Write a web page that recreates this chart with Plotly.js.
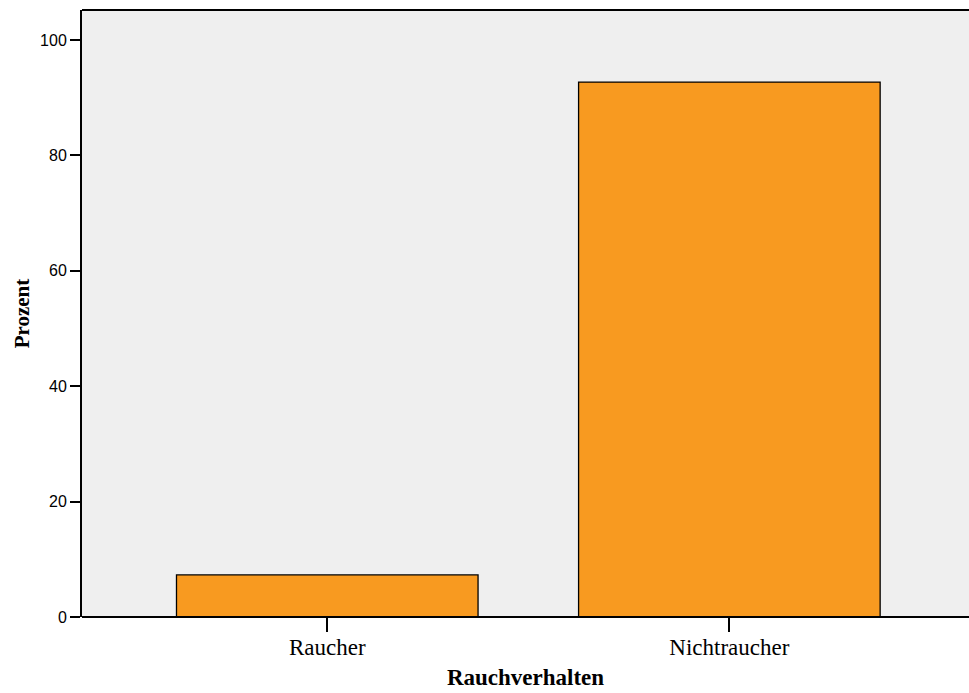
<!DOCTYPE html>
<html>
<head>
<meta charset="utf-8">
<script src="https://cdn.plot.ly/plotly-3.0.1.min.js"></script>
<style>html,body{margin:0;padding:0;background:#fff;}#chart{width:969px;height:693px;}</style>
</head>
<body>
<div id="chart"></div>
<script>
const categories = ["Raucher", "Nichtraucher"];
const percentValues = [7.3, 92.7];
const yTickValues = [0, 20, 40, 60, 80, 100];

const trace = {
  type: "bar",
  x: [0, 1],
  y: percentValues,
  width: 0.75,
  marker: {color: "#F89A20", line: {color: "#000000", width: 1.3}},
  hoverinfo: "skip"
};

const layout = {
  width: 969,
  height: 693,
  margin: {l: 82, r: 0, t: 10, b: 76},
  paper_bgcolor: "#ffffff",
  plot_bgcolor: "#EFEFEF",
  showlegend: false,
  xaxis: {
    range: [-0.61, 1.596],
    tickmode: "array",
    tickvals: [0, 1],
    ticktext: categories,
    ticks: "outside",
    ticklen: 14,
    tickwidth: 2,
    tickcolor: "#000",
    ticklabelstandoff: -5,
    showgrid: false,
    zeroline: false,
    showline: false,
    tickfont: {family: "Liberation Serif, Times New Roman, serif", size: 23, color: "#000"},
    title: {text: "<b>Rauchverhalten</b>", font: {family: "Liberation Serif, Times New Roman, serif", size: 23, color: "#000"}, standoff: 10}
  },
  yaxis: {
    range: [0, 105.2],
    tickmode: "array",
    tickvals: yTickValues,
    ticktext: yTickValues.map(String),
    ticks: "outside",
    ticklen: 10,
    tickwidth: 2,
    tickcolor: "#000",
    showgrid: false,
    zeroline: false,
    showline: true,
    linecolor: "#000",
    linewidth: 2,
    tickfont: {family: "Liberation Sans, Arial, sans-serif", size: 16, color: "#000"},
    title: {text: "<b>Prozent</b>", font: {family: "Liberation Serif, Times New Roman, serif", size: 21, color: "#000"}}
  },
  shapes: [
    {type: "line", xref: "paper", yref: "paper", x0: 0, x1: 1, y0: 1, y1: 1, line: {color: "#000", width: 2}},
    {type: "line", xref: "paper", yref: "paper", x0: 0, x1: 1, y0: 0, y1: 0, line: {color: "#000", width: 2}}
  ]
};

Plotly.newPlot("chart", [trace], layout, {displayModeBar: false, staticPlot: true});
</script>
</body>
</html>
